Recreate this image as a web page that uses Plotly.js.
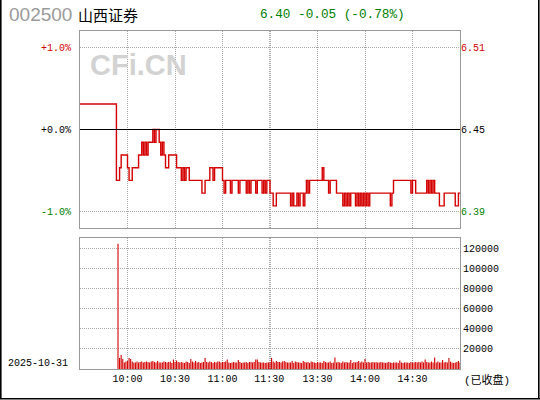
<!DOCTYPE html>
<html><head><meta charset="utf-8">
<script src="https://cdn.plot.ly/plotly-3.0.1.min.js"></script>
<style>html,body{margin:0;padding:0;background:#fff;} #chart{width:540px;height:400px;}</style>
</head><body><div id="chart"></div>
<script>
const stockCode = '002500';
const stockName = '山西证券';
const tradeDate = '2025-10-31';
const statusText = '(已收盘)';
const watermark = 'CFi.CN';
const prevClose = 6.45;
const lastPrice = 6.40;

const timeTickVals = [30, 60, 90, 119.5, 120.5, 150, 180, 210];
const timeTickText = ['10:00', '10:30', '11:00', '11:30', '', '13:30', '14:00', '14:30'];
const sessionSpan = [0, 240];

// one price per minute, index 0 = 9:30, index 240 = 15:00
const prices = [
  6.47, 6.47, 6.47, 6.47, 6.47, 6.47, 6.47, 6.47, 6.47, 6.47,
  6.47, 6.47, 6.47, 6.47, 6.47, 6.47, 6.47, 6.47, 6.47, 6.47,
  6.47, 6.47, 6.47, 6.41, 6.41, 6.42, 6.43, 6.43, 6.43, 6.43,
  6.42, 6.41, 6.41, 6.42, 6.42, 6.42, 6.42, 6.43, 6.43, 6.44,
  6.43, 6.44, 6.43, 6.44, 6.44, 6.44, 6.45, 6.44, 6.45, 6.45,
  6.44, 6.43, 6.44, 6.43, 6.42, 6.42, 6.43, 6.43, 6.43, 6.43,
  6.43, 6.42, 6.42, 6.42, 6.41, 6.42, 6.41, 6.42, 6.42, 6.41,
  6.41, 6.41, 6.41, 6.41, 6.41, 6.41, 6.41, 6.40, 6.40, 6.41,
  6.41, 6.41, 6.42, 6.42, 6.41, 6.42, 6.42, 6.42, 6.42, 6.42,
  6.41, 6.40, 6.41, 6.41, 6.41, 6.40, 6.41, 6.41, 6.41, 6.41,
  6.40, 6.41, 6.41, 6.41, 6.41, 6.40, 6.41, 6.40, 6.41, 6.41,
  6.41, 6.40, 6.41, 6.41, 6.41, 6.40, 6.41, 6.40, 6.41, 6.41,
  6.40, 6.40, 6.39, 6.39, 6.40, 6.40, 6.40, 6.40, 6.40, 6.40,
  6.40, 6.40, 6.40, 6.39, 6.40, 6.39, 6.39, 6.40, 6.39, 6.40,
  6.40, 6.39, 6.40, 6.41, 6.40, 6.41, 6.41, 6.41, 6.41, 6.41,
  6.41, 6.41, 6.41, 6.42, 6.41, 6.41, 6.41, 6.40, 6.41, 6.41,
  6.41, 6.41, 6.40, 6.40, 6.40, 6.40, 6.39, 6.40, 6.39, 6.40,
  6.39, 6.40, 6.40, 6.40, 6.39, 6.40, 6.39, 6.40, 6.39, 6.40,
  6.39, 6.40, 6.39, 6.40, 6.40, 6.40, 6.40, 6.40, 6.40, 6.40,
  6.40, 6.40, 6.40, 6.40, 6.40, 6.40, 6.39, 6.40, 6.41, 6.41,
  6.41, 6.41, 6.41, 6.41, 6.41, 6.41, 6.41, 6.41, 6.41, 6.40,
  6.41, 6.41, 6.40, 6.40, 6.40, 6.40, 6.40, 6.40, 6.40, 6.41,
  6.40, 6.41, 6.40, 6.41, 6.40, 6.40, 6.40, 6.39, 6.39, 6.39,
  6.40, 6.40, 6.40, 6.40, 6.40, 6.40, 6.40, 6.39, 6.39, 6.40,
  6.40
];

// minute volumes, starting at minute index volStart
const volStart = 24;
const volumes = [
  125000,
  11000, 14000, 10000, 6500, 7500, 8000, 11000, 10000, 7500,
  6500, 6500, 7500, 6500, 7000, 7500, 6500, 7000, 7500, 7000,
  6500, 7500, 8000, 7000, 6500, 8000, 6500, 6500, 6500, 7500,
  7000, 6500, 7000, 7500, 6000, 9500, 7000, 8500, 7000, 6500,
  7000, 6500, 6000, 7500, 7000, 6000, 10000, 7500, 6500, 8000,
  6500, 7000, 6000, 6500, 7000, 11000, 7000, 6500, 7500, 7000,
  6000, 7000, 6500, 7500, 7500, 6500, 7000, 7000, 7500, 9500,
  6500, 6000, 6500, 7000, 6500, 6500, 9000, 7000, 6000, 6500,
  6500, 7000, 6000, 7000, 7000, 6500, 7000, 9500, 9500, 7000,
  6500, 6500, 6500, 6000, 6500, 6500, 7000, 11000, 7500, 6500,
  8000, 7000, 7000, 6500, 7500, 8000, 7000, 6500, 6500, 6500,
  8000, 6000, 7500, 7000, 6500, 6500, 6000, 8000, 7000, 6500,
  7000, 6000, 7500, 7000, 6500, 6000, 7000, 6500, 6500, 6000,
  8000, 7000, 6500, 6500, 7500, 6000, 6500, 11500, 6500, 7000,
  6500, 6000, 7500, 6500, 7000, 6500, 6500, 9000, 6000, 7000,
  6500, 7000, 8000, 6500, 7500, 6500, 10000, 6500, 7000, 6500,
  6500, 7000, 6500, 7000, 6500, 6500, 7000, 6500, 6500, 6000,
  6500, 7000, 6500, 6000, 6500, 6500, 6500, 6000, 8500, 6500,
  6000, 6500, 6500, 6500, 6000, 7000, 6500, 6500, 7000, 6500,
  7000, 6500, 7500, 6500, 9500, 7000, 6500, 6500, 7500, 6500,
  11500, 6500, 7500, 6500, 6500, 9000, 6500, 7000, 6500, 11000,
  7500, 6500, 6000, 6500, 7000, 8000, 6500
];
const volTickVals = [20000, 40000, 60000, 80000, 100000, 120000];

const RED = '#d00000', GREEN = '#008000', LINE_RED = '#d40000';
const minutes = prices.map((_, i) => i);
const volX = volumes.map((_, i) => volStart + i);

const change = lastPrice - prevClose;
const pct = change / prevClose * 100;
const quoteText = lastPrice.toFixed(2) + ' ' + change.toFixed(2) + ' (' + pct.toFixed(2) + '%)';

const pTicks = [prevClose * 0.99, prevClose, prevClose * 1.01];
const pctText = [
  '<span style="color:' + GREEN + '">-1.0%</span>',
  '+0.0%',
  '<span style="color:' + RED + '">+1.0%</span>'
];
const priceText = [
  '<span style="color:' + GREEN + '">' + (prevClose * 0.99).toFixed(2) + '</span>',
  prevClose.toFixed(2),
  '<span style="color:' + RED + '">' + (prevClose * 1.01).toFixed(2) + '</span>'
];
const pRange = [prevClose * 0.988, prevClose * 1.012];

// layout helpers (pixel -> paper)
const L = 80, R = 460, T = 31, B = 369;
const px = v => (v - L) / (R - L);
const py = v => (B - v) / (B - T);

const MONO = 'Liberation Mono, DejaVu Sans Mono, monospace';
const grid = {showgrid: true, gridcolor: '#a8a8a8', gridwidth: 1, griddash: '1px,1px'};
const frame = {showline: true, linecolor: '#999999', linewidth: 1, mirror: true, zeroline: false, ticks: ''};

const data = [
  // previous close reference line (drawn on the right price axis)
  {x: sessionSpan, y: [prevClose, prevClose], xaxis: 'x2', yaxis: 'y3', type: 'scatter', mode: 'lines',
   line: {color: '#000', width: 1}, hoverinfo: 'skip'},
  {x: minutes, y: prices, xaxis: 'x2', yaxis: 'y', type: 'scatter', mode: 'lines',
   line: {color: LINE_RED, width: 1.4, shape: 'hv'}, hoverinfo: 'skip'},
  {x: volX, y: volumes, xaxis: 'x', yaxis: 'y2', type: 'bar', width: 0.7,
   marker: {color: LINE_RED, line: {width: 0}}, hoverinfo: 'skip'}
];

const layout = {
  width: 540, height: 400,
  margin: {l: L, r: 540 - R, t: T, b: 400 - B, pad: 0},
  paper_bgcolor: '#fff', plot_bgcolor: '#fff',
  showlegend: false,
  font: {family: MONO, size: 10, color: '#000'},
  xaxis: Object.assign({domain: [0, 1], anchor: 'y2', range: sessionSpan,
    tickvals: timeTickVals, ticktext: timeTickText, tickfont: {family: MONO, size: 10, color: '#000'}}, grid, frame),
  xaxis2: Object.assign({domain: [0, 1], anchor: 'y', range: sessionSpan, matches: 'x',
    tickvals: timeTickVals, showticklabels: false}, grid, frame),
  yaxis: Object.assign({domain: [py(228), 1], anchor: 'x2', side: 'left', range: pRange,
    tickvals: pTicks, ticktext: pctText, tickfont: {family: MONO, size: 10, color: '#000'},
    ticklabelstandoff: 6}, grid, frame),
  yaxis3: {overlaying: 'y', anchor: 'x2', side: 'right', range: pRange, tickvals: pTicks,
    ticktext: priceText, showgrid: false, zeroline: false, showline: false, ticks: '',
    tickfont: {family: MONO, size: 10, color: '#000'}},
  yaxis2: Object.assign({domain: [0, py(238)], anchor: 'x', side: 'right', range: [0, 130700],
    tickvals: volTickVals, tickformat: 'd', tickfont: {family: MONO, size: 10, color: '#000'}}, grid, frame),
  shapes: [
    {type: 'line', xref: 'paper', yref: 'paper', x0: px(0.8), x1: px(0.8), y0: py(0), y1: py(399),
     line: {color: '#000', width: 1.6}},
    {type: 'line', xref: 'paper', yref: 'paper', x0: px(538.8), x1: px(538.8), y0: py(0), y1: py(399),
     line: {color: '#000', width: 1.6}},
    {type: 'line', xref: 'paper', yref: 'paper', x0: px(0), x1: px(540), y0: py(398.8), y1: py(398.8),
     line: {color: '#000', width: 1.6}}
  ],
  annotations: [
    {text: stockCode, xref: 'paper', yref: 'paper', x: px(7), y: py(15), xanchor: 'left', yanchor: 'middle',
     showarrow: false, font: {family: 'Liberation Sans, Arial, sans-serif', size: 19, color: '#9a9a9a'}},
    {text: stockName, xref: 'paper', yref: 'paper', x: px(76), y: py(15), xanchor: 'left', yanchor: 'middle',
     showarrow: false, font: {family: 'Noto Sans CJK SC, sans-serif', size: 15, color: '#000'}},
    {text: quoteText, xref: 'paper', yref: 'paper', x: px(258), y: py(15), xanchor: 'left', yanchor: 'middle',
     showarrow: false, font: {family: MONO, size: 12.7, color: GREEN}},
    {text: tradeDate, xref: 'paper', yref: 'paper', x: px(6), y: py(363), xanchor: 'left', yanchor: 'middle',
     showarrow: false, font: {family: MONO, size: 10, color: '#000'}},
    {text: statusText, xref: 'paper', yref: 'paper', x: px(462), y: py(380), xanchor: 'left', yanchor: 'middle',
     showarrow: false, font: {family: 'Liberation Mono, Noto Sans CJK SC, monospace', size: 11, color: '#000'}},
    {text: '<b>' + watermark + '</b>', xref: 'paper', yref: 'paper', x: px(88), y: py(65), xanchor: 'left', yanchor: 'middle',
     showarrow: false, font: {family: 'Liberation Sans, Arial, sans-serif', size: 29, color: '#d2d2d2'}}
  ]
};

Plotly.newPlot('chart', data, layout, {displayModeBar: false, staticPlot: true});
</script></body></html>
